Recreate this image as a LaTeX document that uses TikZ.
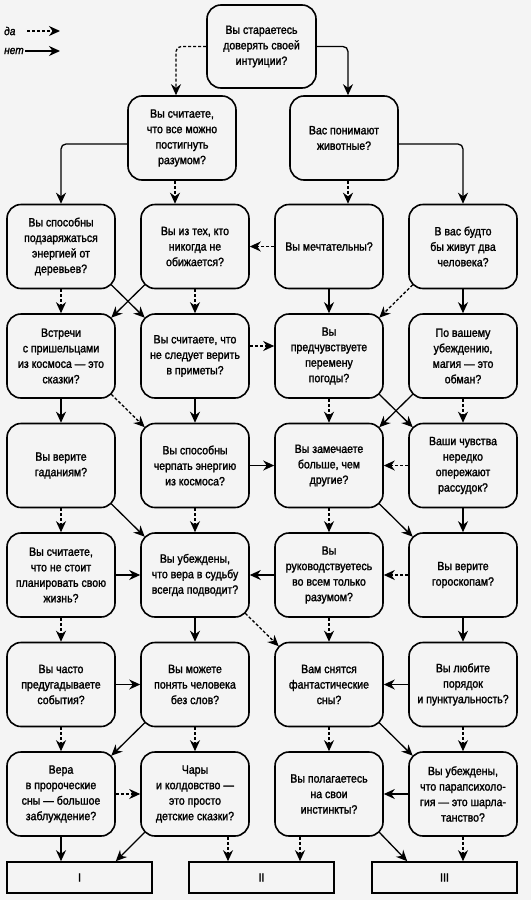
\documentclass[tikz,border=0pt]{standalone}
\usepackage{fontspec}
\setmainfont{Liberation Sans}[FakeStretch=0.88, FakeBold=1.6]
\usetikzlibrary{arrows.meta,calc}
\definecolor{bg}{RGB}{244,244,244}
\tikzset{
  qbox/.style={draw, line width=1.6pt, rounded corners=14pt, minimum width=108pt, minimum height=84pt,
    inner sep=0pt, align=center, fill=bg, font=\fontsize{12}{15.5}\selectfont},
  rbox/.style={draw, line width=1.6pt, minimum width=145pt, minimum height=31pt, inner sep=0pt,
    fill=bg, font=\fontsize{12}{14}\selectfont},
  conn/.style={line width=1.3pt, -{Stealth[length=11pt,width=10pt]}},
  yes/.style={conn, dash pattern=on 3pt off 2pt},
  no/.style={conn},
  leg/.style={font=\itshape\fontsize{11.5}{12}\selectfont, inner sep=0pt, anchor=west},
}
\begin{document}
\begin{tikzpicture}[x=1pt,y=-1pt]
\fill[bg] (0,0) rectangle (531,900);
\useasboundingbox (0,0) rectangle (531,900);

% legend
\node[leg] (ly) at (4,31) {да};
\node[leg] (ln) at (4,51) {нет};
\coordinate (ly1) at (27,31); \coordinate (ly2) at (60,31);
\coordinate (ln1) at (25,51); \coordinate (ln2) at (60,51);
\draw[yes] (ly1) -- (ly2);
\draw[no] (ln1) -- (ln2);

% nodes
\node[qbox, minimum width=109pt, minimum height=83pt] (t) at (261.5,46.5) {Вы стараетесь\\доверять своей\\интуиции?};
\node[qbox] (a1) at (182,138) {Вы считаете,\\что все можно\\постигнуть\\разумом?};
\node[qbox] (a2) at (344,138) {Вас понимают\\животные?};

\node[qbox] (n21) at (61,246.5) {Вы способны\\подзаряжаться\\энергией от\\деревьев?};
\node[qbox] (n22) at (195,246.5) {Вы из тех, кто\\никогда не\\обижается?};
\node[qbox] (n23) at (329,246.5) {Вы мечтательны?};
\node[qbox] (n24) at (463,246.5) {В вас будто\\бы живут два\\человека?};

\node[qbox] (n31) at (61,356) {Встречи\\с пришельцами\\из космоса — это\\сказки?};
\node[qbox] (n32) at (195,356) {Вы считаете, что\\не следует верить\\в приметы?};
\node[qbox] (n33) at (329,356) {Вы\\предчувствуете\\перемену\\погоды?};
\node[qbox] (n34) at (463,356) {По вашему\\убеждению,\\магия — это\\обман?};

\node[qbox] (n41) at (61,465.5) {Вы верите\\гаданиям?};
\node[qbox] (n42) at (195,465.5) {Вы способны\\черпать энергию\\из космоса?};
\node[qbox] (n43) at (329,465.5) {Вы замечаете\\больше, чем\\другие?};
\node[qbox] (n44) at (463,465.5) {Ваши чувства\\нередко\\опережают\\рассудок?};

\node[qbox] (n51) at (61,575) {Вы считаете,\\что не стоит\\планировать свою\\жизнь?};
\node[qbox] (n52) at (195,575) {Вы убеждены,\\что вера в судьбу\\всегда подводит?};
\node[qbox] (n53) at (329,575) {Вы\\руководствуетесь\\во всем только\\разумом?};
\node[qbox] (n54) at (463,575) {Вы верите\\гороскопам?};

\node[qbox] (n61) at (61,684.5) {Вы часто\\предугадываете\\события?};
\node[qbox] (n62) at (195,684.5) {Вы можете\\понять человека\\без слов?};
\node[qbox] (n63) at (329,684.5) {Вам снятся\\фантастические\\сны?};
\node[qbox] (n64) at (463,684.5) {Вы любите\\порядок\\и пунктуальность?};

\node[qbox] (n71) at (61,794) {Вера\\в пророческие\\сны — большое\\заблуждение?};
\node[qbox] (n72) at (195,794) {Чары\\и колдовство —\\это просто\\детские сказки?};
\node[qbox] (n73) at (329,794) {Вы полагаетесь\\на свои\\инстинкты?};
\node[qbox] (n74) at (463,794) {Вы убеждены,\\что парапсихоло-\\гия — это шарла-\\танство?};

\node[rbox] (b1) at (79.5,877.5) {I};
\node[rbox] (b2) at (261.5,877.5) {II};
\node[rbox] (b3) at (444.5,877.5) {III};

% top connectors
\draw[yes, rounded corners=5pt] (t.west) -| ([xshift=-6pt]a1.north);
\draw[no, rounded corners=5pt] (t.east) -| ([xshift=4pt]a2.north);
\draw[no, rounded corners=5pt] ([yshift=-6pt]a1.west) -| (n21.north);
\draw[yes] ([xshift=-7pt]a1.south) -- ([xshift=-7pt]a1.south |- n22.north);
\draw[yes] ([xshift=4pt]a2.south) -- ([xshift=4pt]a2.south |- n23.north);
\draw[no, rounded corners=5pt] ([yshift=-6pt]a2.east) -| (n24.north);

% row 2
\draw[yes] (n21) -- (n31);
\draw[no] ([shift={(-4.5pt,4.5pt)}]n21.south east) -- ([shift={(4.5pt,-4.5pt)}]n32.north west);
\draw[no] ([shift={(4.5pt,4.5pt)}]n22.south west) -- ([shift={(-4.5pt,-4.5pt)}]n31.north east);
\draw[yes] (n22) -- (n32);
\draw[yes] (n23) -- (n22);
\draw[no] (n23) -- (n33);
\draw[yes] ([shift={(4.5pt,4.5pt)}]n24.south west) -- ([shift={(-4.5pt,-4.5pt)}]n33.north east);
\draw[no] (n24) -- (n34);

% row 3
\draw[no] (n31) -- (n41);
\draw[yes] ([shift={(-4.5pt,4.5pt)}]n31.south east) -- ([shift={(4.5pt,-4.5pt)}]n42.north west);
\draw[yes] ([yshift=10pt]n32.east) -- ([yshift=10pt]n33.west);
\draw[no] (n32) -- (n42);
\draw[yes] (n33) -- (n43);
\draw[no] ([shift={(-4.5pt,4.5pt)}]n33.south east) -- ([shift={(4.5pt,-4.5pt)}]n44.north west);
\draw[no] ([shift={(4.5pt,4.5pt)}]n34.south west) -- ([shift={(-4.5pt,-4.5pt)}]n43.north east);
\draw[yes] (n34) -- (n44);

% row 4
\draw[yes] (n41) -- (n51);
\draw[no] ([shift={(-4.5pt,4.5pt)}]n41.south east) -- ([shift={(4.5pt,-4.5pt)}]n52.north west);
\draw[no] (n42) -- (n43);
\draw[yes] (n42) -- (n52);
\draw[yes] (n43) -- (n53);
\draw[no] ([shift={(-4.5pt,4.5pt)}]n43.south east) -- ([shift={(4.5pt,-4.5pt)}]n54.north west);
\draw[yes] (n44) -- (n43);
\draw[no] (n44) -- (n54);

% row 5
\draw[no] (n51) -- (n52);
\draw[yes] (n51) -- (n61);
\draw[no] (n52) -- (n62);
\draw[yes] ([shift={(-4.5pt,4.5pt)}]n52.south east) -- ([shift={(4.5pt,-4.5pt)}]n63.north west);
\draw[no] (n53) -- (n52);
\draw[yes] (n53) -- (n63);
\draw[yes] (n54) -- (n53);
\draw[no] (n54) -- (n64);

% row 6
\draw[no] (n61) -- (n62);
\draw[yes] (n61) -- (n71);
\draw[no] ([shift={(4.5pt,4.5pt)}]n62.south west) -- ([shift={(-4.5pt,-4.5pt)}]n71.north east);
\draw[yes] (n62) -- (n72);
\draw[yes] (n63) -- (n73);
\draw[no] ([shift={(-4.5pt,4.5pt)}]n63.south east) -- ([shift={(4.5pt,-4.5pt)}]n74.north west);
\draw[no] (n64) -- (n63);
\draw[yes] (n64) -- (n74);

% row 7
\draw[yes] (n71) -- (n72);
\draw[no] (n71.south) -- (n71.south |- b1.north);
\draw[no] ([shift={(4.5pt,4.5pt)}]n72.south west) -- ([xshift=-37pt]b1.north east);
\draw[yes] ([xshift=33pt]n72.south) -- ([xshift=33pt]n72.south |- b2.north);
\draw[yes] ([xshift=-29pt]n73.south) -- ([xshift=-29pt]n73.south |- b2.north);
\draw[no] ([shift={(-4.5pt,4.5pt)}]n73.south east) -- ([xshift=36pt]b3.north west);
\draw[no] (n74) -- (n73);
\draw[yes] (n74.south) -- (n74.south |- b3.north);
\end{tikzpicture}
\end{document}
